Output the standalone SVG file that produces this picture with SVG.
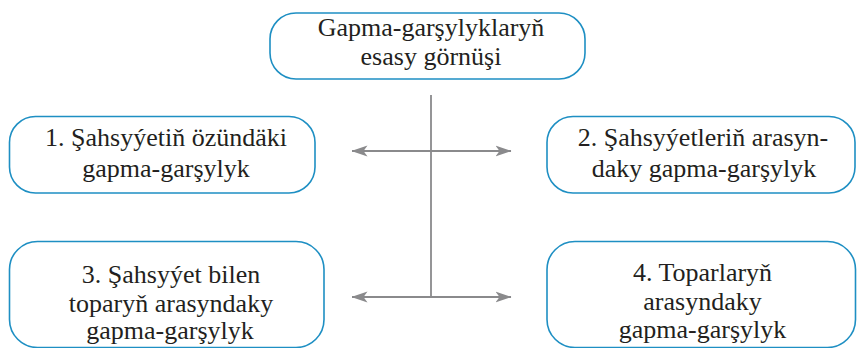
<svg xmlns="http://www.w3.org/2000/svg" width="857" height="348" viewBox="0 0 857 348">
  <style>
    .box { fill: #ffffff; stroke: #1e8fc3; stroke-width: 1.6; }
    .lbl { font-family: 'Liberation Serif', 'Times New Roman', serif; font-size: 26px; fill: #231f20; text-anchor: middle; }
    .conn { stroke: #8a8a8c; stroke-width: 1.8; fill: none; }
  </style>
  <defs>
    <marker id="arrow" viewBox="0 0 16 12" markerWidth="16" markerHeight="12" refX="15.5" refY="6" orient="auto" markerUnits="userSpaceOnUse">
      <path d="M0,0.5 L16,6 L0,11.5 L4,6 Z" fill="#8a8a8c"/>
    </marker>
  </defs>
  <rect width="857" height="348" fill="#ffffff"/>

  <g id="connectors">
    <line class="conn" x1="431" y1="95" x2="431" y2="297"/>
    <line class="conn" x1="431" y1="151" x2="352" y2="151" marker-end="url(#arrow)"/>
    <line class="conn" x1="431" y1="151" x2="511" y2="151" marker-end="url(#arrow)"/>
    <line class="conn" x1="431" y1="297" x2="352" y2="297" marker-end="url(#arrow)"/>
    <line class="conn" x1="431" y1="297" x2="511" y2="297" marker-end="url(#arrow)"/>
  </g>

  <g id="node-main">
    <rect class="box" x="270" y="13" width="315" height="66" rx="26" ry="26"/>
    <text class="lbl" x="431" y="36">Gapma-garşylyklaryň</text>
    <text class="lbl" x="431" y="65">esasy görnüşi</text>
  </g>

  <g id="node-1">
    <rect class="box" x="9.5" y="116.5" width="305.5" height="76.5" rx="26" ry="26"/>
    <text class="lbl" x="166" y="146">1. Şahsyýetiň özündäki</text>
    <text class="lbl" x="166" y="177">gapma-garşylyk</text>
  </g>

  <g id="node-2">
    <rect class="box" x="547" y="116.5" width="308" height="76.5" rx="26" ry="26"/>
    <text class="lbl" x="703" y="146">2. Şahsyýetleriň arasyn-</text>
    <text class="lbl" x="704" y="177">daky gapma-garşylyk</text>
  </g>

  <g id="node-3">
    <rect class="box" x="9.5" y="241.5" width="314.5" height="106" rx="28" ry="28"/>
    <text class="lbl" x="171" y="283">3. Şahsyýet bilen</text>
    <text class="lbl" x="171" y="312">toparyň arasyndaky</text>
    <text class="lbl" x="170" y="339">gapma-garşylyk</text>
  </g>

  <g id="node-4">
    <rect class="box" x="547" y="241.5" width="308.5" height="106" rx="28" ry="28"/>
    <text class="lbl" x="702.5" y="281">4. Toparlaryň</text>
    <text class="lbl" x="702.5" y="310">arasyndaky</text>
    <text class="lbl" x="702.5" y="338">gapma-garşylyk</text>
  </g>
</svg>
